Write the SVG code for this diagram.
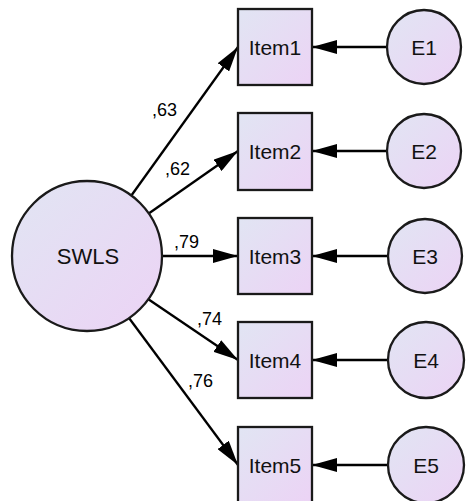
<svg xmlns="http://www.w3.org/2000/svg" width="466" height="501" viewBox="0 0 466 501">
<defs>
<linearGradient id="g" x1="0" y1="0" x2="1" y2="1">
<stop offset="0" stop-color="#e1e5f3"/>
<stop offset="1" stop-color="#ecd3f5"/>
</linearGradient>
<marker id="ah" viewBox="0 0 25 14" refX="25" refY="7" markerWidth="25" markerHeight="14" markerUnits="userSpaceOnUse" orient="auto">
<path d="M0,0 L25,7 L0,14 Z" fill="#000"/>
</marker>
<style>
.n{fill:url(#g);stroke:#1a1a1a;stroke-width:2.3}
.t{font-family:"Liberation Sans",Arial,sans-serif;font-size:21px;fill:#111;text-anchor:middle}
.l{font-family:"Liberation Sans",Arial,sans-serif;font-size:18px;fill:#000}
.c{stroke:#000;stroke-width:2.3;fill:none;marker-end:url(#ah)}
</style>
</defs>
<rect width="466" height="501" fill="#fff"/>
<g id="connectors">
<line class="c" x1="131" y1="196" x2="238" y2="47"/>
<line class="c" x1="148" y1="214" x2="238" y2="151"/>
<line class="c" x1="162" y1="256" x2="238" y2="256"/>
<line class="c" x1="148" y1="299" x2="238" y2="360"/>
<line class="c" x1="129" y1="318" x2="238" y2="465"/>
<line class="c" x1="386" y1="47" x2="312" y2="47"/>
<line class="c" x1="386" y1="151" x2="312" y2="151"/>
<line class="c" x1="387" y1="256" x2="312" y2="256"/>
<line class="c" x1="388" y1="360" x2="312" y2="360"/>
<line class="c" x1="388" y1="465" x2="312" y2="465"/>
<text class="l" x="152" y="116">,63</text>
<text class="l" x="165" y="175">,62</text>
<text class="l" x="174" y="248">,79</text>
<text class="l" x="197" y="325">,74</text>
<text class="l" x="188" y="387">,76</text>
</g>
<g id="SWLS"><circle class="n" cx="87" cy="256" r="75"/><text class="t" style="font-size:22px" x="88" y="264">SWLS</text></g>
<g id="Item1"><rect class="n" x="238" y="9" width="74" height="76"/><text class="t" x="275" y="55">Item1</text></g>
<g id="Item2"><rect class="n" x="238" y="113" width="74" height="77"/><text class="t" x="275" y="159">Item2</text></g>
<g id="Item3"><rect class="n" x="238" y="218" width="74" height="76"/><text class="t" x="275" y="264">Item3</text></g>
<g id="Item4"><rect class="n" x="238" y="322" width="74" height="76"/><text class="t" x="275" y="368">Item4</text></g>
<g id="Item5"><rect class="n" x="238" y="427" width="74" height="76"/><text class="t" x="275" y="473">Item5</text></g>
<g id="E1"><circle class="n" cx="424" cy="47" r="37"/><text class="t" x="424" y="55">E1</text></g>
<g id="E2"><circle class="n" cx="424" cy="151" r="37"/><text class="t" x="424" y="159">E2</text></g>
<g id="E3"><circle class="n" cx="425" cy="256" r="37"/><text class="t" x="425" y="264">E3</text></g>
<g id="E4"><circle class="n" cx="426" cy="360" r="38"/><text class="t" x="426" y="368">E4</text></g>
<g id="E5"><circle class="n" cx="426" cy="465" r="38"/><text class="t" x="426" y="473">E5</text></g>
</svg>
